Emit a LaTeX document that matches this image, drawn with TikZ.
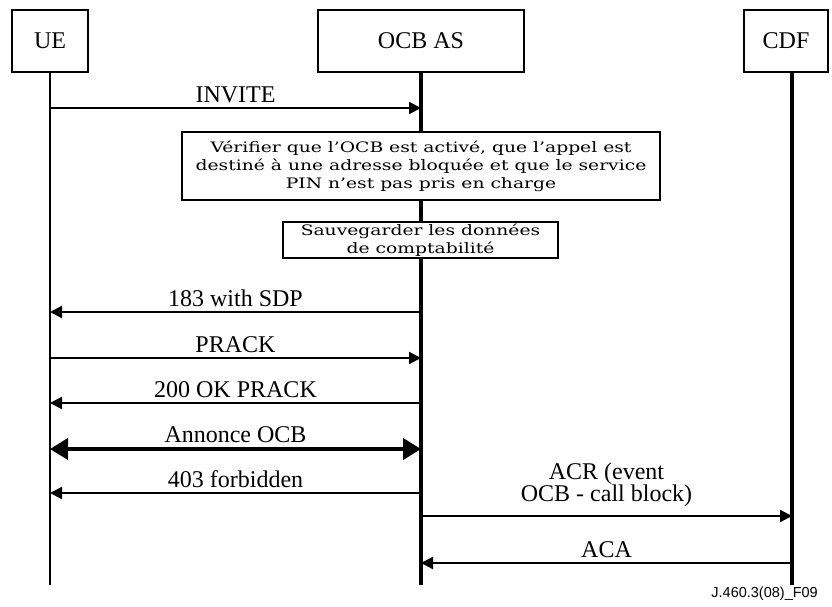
\documentclass[tikz,border=0pt]{standalone}
\usepackage{fontspec}
\setmainfont{Liberation Serif}
\newfontfamily\boxfont[FakeStretch=1.30]{DejaVu Serif}
\newfontfamily\tagfont{Liberation Sans}
\usetikzlibrary{arrows.meta}

\begin{document}
\begin{tikzpicture}[x=1pt,y=-1pt,
  head/.style={draw,line width=2.2pt,minimum height=62pt,inner sep=0pt,
    font=\fontsize{24}{26}\selectfont},
  msg/.style={line width=2.2pt,-{Triangle[length=12pt,width=12pt]}},
  bigmsg/.style={line width=4pt,{Triangle[length=18pt,width=21pt]}-{Triangle[length=18pt,width=21pt]}},
  lbl/.style={anchor=base,inner sep=0pt,yshift=6pt,align=center,
    font=\fontsize{24}{22}\selectfont},
  action/.style={draw,fill=white,line width=2.6pt,inner sep=0pt,align=center,
    font=\boxfont\fontsize{14.4}{18}\selectfont}
]
\useasboundingbox (0,0) rectangle (832,606);

% participants
\node[head,minimum width=76pt] (ue) at (50,41) {UE};
\node[head,minimum width=206pt] (ocb) at (421,41) {OCB AS};
\node[head,minimum width=84pt] (cdf) at (786,41) {CDF};

% lifelines
\coordinate (bottom) at (0,585);
\coordinate (cdfl) at ([xshift=6pt]cdf.south);
\draw[line width=2.5pt] (ue.south) -- (ue |- bottom);
\draw[line width=3.8pt] (ocb.south) -- (ocb |- bottom);
\draw[line width=3.8pt] (cdfl) -- (cdfl |- bottom);

% message rows
\coordinate (r1) at (0,108);
\coordinate (r2) at (0,312);
\coordinate (r3) at (0,358);
\coordinate (r4) at (0,403);
\coordinate (r5) at (0,449);
\coordinate (r6) at (0,493);
\coordinate (r7) at (0,516);
\coordinate (r8) at (0,563);

\draw[msg] (ue |- r1) -- node[lbl] {INVITE} (ocb |- r1);

% processing steps at the OCB AS
\node[action,minimum width=478pt,minimum height=68pt] (chk) at (421,166)
  {Vérifier que l’OCB est activé, que l’appel est\\
   destiné à une adresse bloquée et que le service\\
   PIN n’est pas pris en charge};
\node[action,minimum width=275pt,minimum height=36pt] (save) at (420.5,240)
  {Sauvegarder les données\\de comptabilité};

\draw[msg] (ocb |- r2) -- node[lbl] {183 with SDP} (ue |- r2);
\draw[msg] (ue |- r3) -- node[lbl] {PRACK} (ocb |- r3);
\draw[msg] (ocb |- r4) -- node[lbl] {200 OK PRACK} (ue |- r4);
\draw[bigmsg] (ue |- r5) -- node[lbl,yshift=1pt] {Annonce OCB} (ocb |- r5);
\draw[msg] (ocb |- r6) -- node[lbl] {403 forbidden} (ue |- r6);
\draw[msg] (ocb |- r7) -- node[lbl,anchor=south,yshift=2pt] {ACR (event\\OCB - call block)} (cdfl |- r7);
\draw[msg] (cdfl |- r8) -- node[lbl] {ACA} (ocb |- r8);

\node[anchor=base east,inner sep=0pt,font=\tagfont\fontsize{14.5}{16}\selectfont]
  (tag) at (818,597) {J.460.3(08)\_F09};
\end{tikzpicture}
\end{document}
